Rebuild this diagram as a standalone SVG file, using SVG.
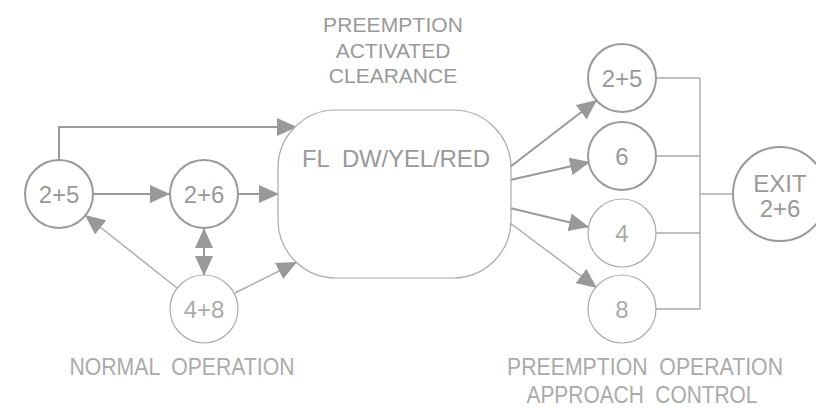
<svg xmlns="http://www.w3.org/2000/svg" width="816" height="411" viewBox="0 0 816 411">
<style>
text{font-family:"Liberation Sans",Arial,sans-serif;fill:#999;text-anchor:middle;white-space:pre}
.n{fill:#fff;stroke:#999;stroke-width:2}
.l{fill:#fff;stroke:#aaa;stroke-width:1.2}
.lt{fill:#aaa}
.c{fill:none;stroke:#999;stroke-width:2}
.c1{fill:none;stroke:#aaa;stroke-width:1.4}
.lbl{font-size:24px}
.ttl{font-size:21px}
.cap{font-size:23px;fill:#aaa}
</style>
<defs>
<marker id="ah" viewBox="0 0 20 18" refX="20" refY="9" markerWidth="20" markerHeight="18" markerUnits="userSpaceOnUse" orient="auto-start-reverse">
<path d="M0,0 L20,9 L0,18 Z" fill="#999"/>
</marker>
</defs>
<g id="connectors">
<path class="c" d="M59,160 V127 H297" marker-end="url(#ah)"/>
<path class="c" d="M93,194 H170" marker-end="url(#ah)"/>
<path class="c" d="M238,194 H279" marker-end="url(#ah)"/>
<path class="c" d="M204,228 V276" marker-start="url(#ah)" marker-end="url(#ah)"/>
<path class="c1" d="M177,288 L85,215" marker-end="url(#ah)"/>
<path class="c1" d="M235,293 L297,262" marker-end="url(#ah)"/>
<path class="c" d="M510,167 L597,100" marker-end="url(#ah)"/>
<path class="c" d="M510,180 L590,162" marker-end="url(#ah)"/>
<path class="c" d="M510,208 L589,227" marker-end="url(#ah)"/>
<path class="c1" d="M510,223 L597,288" marker-end="url(#ah)"/>
<path class="c1" d="M656,78 H700 M656,156 H700 M656,233 H700 M656,309 H700 M700,78 V309 M700,194 H733"/>
</g>
<g id="title">
<text class="ttl" x="393" y="32" textLength="140">PREEMPTION</text>
<text class="ttl" x="393" y="58">ACTIVATED</text>
<text class="ttl" x="393" y="83">CLEARANCE</text>
</g>
<g id="clearance">
<rect class="l" x="278" y="110" width="233" height="168" rx="58" ry="58"/>
<text class="lbl" x="396" y="167" textLength="188">FL  DW/YEL/RED</text>
</g>
<g id="n-2p5-left"><circle class="n" cx="59" cy="194" r="34"/><text class="lbl" x="59" y="203">2+5</text></g>
<g id="n-2p6-left"><circle class="n" cx="204" cy="194" r="34"/><text class="lbl" x="204" y="203">2+6</text></g>
<g id="n-4p8"><circle class="l" cx="204" cy="309" r="34"/><text class="lbl lt" x="204" y="318">4+8</text></g>
<g id="n-2p5-right"><circle class="n" cx="622" cy="78" r="34"/><text class="lbl" x="622" y="87">2+5</text></g>
<g id="n-6"><circle class="n" cx="622" cy="156" r="34"/><text class="lbl" x="622" y="165">6</text></g>
<g id="n-4"><circle class="l" cx="622" cy="233" r="34"/><text class="lbl lt" x="622" y="242">4</text></g>
<g id="n-8"><circle class="l" cx="622" cy="309" r="34"/><text class="lbl lt" x="622" y="318">8</text></g>
<g id="n-exit"><circle class="n" cx="780" cy="194" r="47"/><text class="lbl" x="780" y="192">EXIT</text><text class="lbl" x="780" y="217">2+6</text></g>
<g id="captions">
<text class="cap" x="182" y="375" textLength="225" lengthAdjust="spacingAndGlyphs">NORMAL  OPERATION</text>
<text class="cap" x="645" y="375" textLength="276" lengthAdjust="spacingAndGlyphs">PREEMPTION  OPERATION</text>
<text class="cap" x="642" y="403" textLength="231" lengthAdjust="spacingAndGlyphs">APPROACH  CONTROL</text>
</g>
</svg>
